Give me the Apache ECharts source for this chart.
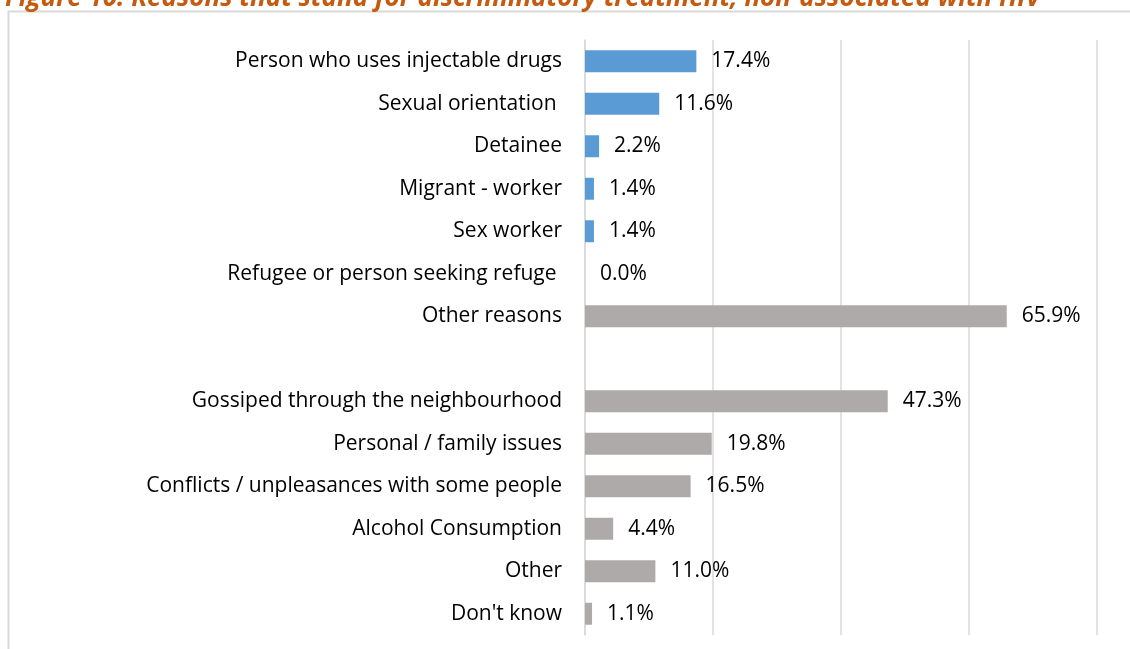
<!DOCTYPE html>
<html>
<head>
<meta charset="utf-8">
<script src="https://cdn.jsdelivr.net/npm/echarts@6/dist/echarts.min.js"></script>
<style>
  html, body { margin: 0; padding: 0; background: #fff; }
  #chart { width: 1130px; height: 649px; }
</style>
</head>
<body>
<div id="chart"></div>
<script>
// reasons, top to bottom; the empty entry is the gap between the two groups
const reasons = [
    "Person who uses injectable drugs",
    "Sexual orientation ",
    "Detainee",
    "Migrant - worker",
    "Sex worker",
    "Refugee or person seeking refuge ",
    "Other reasons",
    "",
    "Gossiped through the neighbourhood",
    "Personal / family issues",
    "Conflicts / unpleasances with some people",
    "Alcohol Consumption",
    "Other",
    "Don't know"
];
const shares = [17.4, 11.6, 2.2, 1.4, 1.4, 0.0, 65.9, null, 47.3, 19.8, 16.5, 4.4, 11.0, 1.1];
const xTicks = [0, 20, 40, 60, 80];
const blueRows = 6; // first rows drawn in blue

const chart = echarts.init(document.getElementById("chart"));

chart.setOption({
    animation: false,
    title: {
        text: "Figure 10. Reasons that stand for discriminatory treatment, non-associated with HIV",
        left: 0,
        top: -19,
        textStyle: {
            fontFamily: "Open Sans",
            fontSize: 26,
            fontStyle: "italic",
            fontWeight: "bold",
            color: "#C55A11"
        }
    },
    graphic: [
        {
            type: "rect",
            shape: { x: 8.5, y: 11.5, width: 1200, height: 700 },
            style: { fill: "none", stroke: "#D9D9D9", lineWidth: 2 },
            z: -1
        }
    ],
    grid: { left: 585, right: 33, top: 40, bottom: 14 },
    xAxis: {
        type: "value",
        min: xTicks[0],
        max: xTicks[xTicks.length - 1],
        interval: 20,
        axisLabel: { show: false },
        axisLine: { show: false },
        axisTick: { show: false },
        splitLine: { lineStyle: { color: "#D9D9D9", width: 1.5 } }
    },
    yAxis: {
        type: "category",
        inverse: true,
        data: reasons,
        axisLine: { show: true, lineStyle: { color: "#D9D9D9", width: 1.5 } },
        axisTick: { show: false },
        axisLabel: {
            margin: 23,
            fontFamily: "Open Sans",
            fontSize: 21,
            color: "#000"
        }
    },
    series: [
        {
            type: "bar",
            data: shares,
            barWidth: 22,
            itemStyle: {
                color: p => (p.dataIndex < blueRows ? "#5B9BD5" : "#AEAAAA")
            },
            label: {
                show: true,
                position: "right",
                distance: 15,
                fontFamily: "Open Sans",
                fontSize: 21,
                color: "#000",
                formatter: p => (p.value == null ? "" : p.value.toFixed(1) + "%")
            }
        }
    ]
});
</script>
</body>
</html>
